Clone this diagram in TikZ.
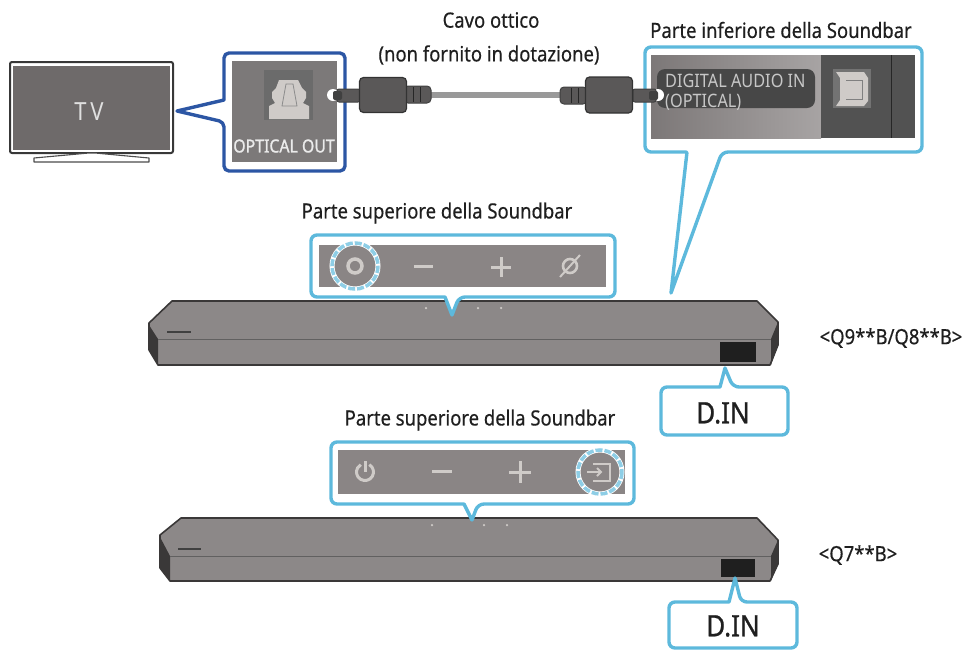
\documentclass[tikz,border=0pt]{standalone}
\usepackage{fontspec}
\setmainfont{Noto Sans}[FakeStretch=0.88]
\definecolor{cy}{HTML}{5DB9DC}
\definecolor{navy}{HTML}{2C56A4}
\definecolor{barg}{HTML}{8C8888}
\definecolor{bard}{HTML}{3A3838}
\definecolor{pan}{HTML}{8A8585}
\definecolor{tvg}{HTML}{6E6A6A}
\definecolor{plug}{HTML}{5A5858}
\definecolor{ico}{HTML}{CFCBC8}
\tikzset{
 x=1pt,y=-1pt,
 lab/.style={font=\fontsize{21}{21}\selectfont\addfontfeature{FakeBold=0.4},text=black!88,inner sep=0pt},
 din/.style={font=\fontsize{29.5}{30}\selectfont\addfontfeature{FakeBold=0.8},text=black!88,inner sep=0pt},
 call/.style={draw=cy,line width=3.4pt,fill=white,line join=round},
 panel/.style={fill=pan,draw=none},
 barbody/.style={fill=barg,draw=bard,line width=1.6pt,line join=round},
 barside/.style={fill=bard,draw=none},
 barline/.style={draw=bard!80,line width=1pt},
 icon/.style={draw=ico,line width=3pt},
 ring/.style={draw=cy!70!white,line width=3.5pt,dash pattern=on 7pt off 2pt},
 ringbase/.style={draw=white,line width=5pt},
 plugbody/.style={fill=plug,draw=black!80,line width=1.2pt,rounded corners=4pt},
 dot/.style={circle,fill=ico,inner sep=0pt,minimum size=2.5pt},
}
\begin{document}
\begin{tikzpicture}
\useasboundingbox (0,0) rectangle (964,651);
% TV
\draw[fill=white,draw=black!78,line width=2pt,rounded corners=2pt] (10,62) rectangle (173,153);
\fill[tvg] (13,66) rectangle (170,150);
\draw[fill=white,draw=black!70,line width=1.1pt,line join=round] (34,158)--(89,153)--(95,153)--(149,158)--(149,162)--(34,162)--cycle;
\node[font=\fontsize{25}{26}\selectfont,text=white!88!black,inner sep=0pt] (tv) at (89,112) {T\kern4pt V};
% optical out callout
\draw[draw=navy,line width=3.4pt,fill=white,line join=round,rounded corners=5pt] (224,100)--(224,53)--(345,53)--(345,171)--(224,171)--(224,122)[sharp corners]--(177,111)--cycle;
\fill[tvg!90!white] (232,61) rectangle (337,162);
\fill[black!58] (264,70) rectangle (313,120);
\fill[ico] (269,119)--(269,106)--(275,103)--(272,98)--(272,92)--(276,88)--(279,80)--(298,80)--(302,88)--(306,92)--(306,98)--(303,103)--(309,106)--(309,119)--cycle;
\draw[black!45,line width=.8pt] (282,106)--(286,84)--(293,84)--(297,106)--cycle;
\node[font=\fontsize{18}{20}\selectfont\addfontfeature{FakeBold=1.2},text=white!92!black,inner sep=0pt] (oo) at (284,146) {OPTICAL OUT};
% right bottom callout
\draw[call,rounded corners=6pt] (687,152)--(645,152)--(645,47)--(922,47)--(922,152)--(722,152)[sharp corners]--(671,293)[rounded corners=1pt]--cycle;
\fill[left color=pan!90!black,right color=pan!75!white] (651,55) rectangle (821,138);
\fill[black!68] (821,55) rectangle (915,138);
\draw[black!85,line width=1pt] (891,55)--(891,138);
\fill[black!72,rounded corners=8pt] (657,69) rectangle (815,108);
\fill[black!55] (833,69) rectangle (871,108);
\fill[ico] (836,72)--(864,72)--(868,78)--(868,101)--(864,106)--(836,106)--(840,100)--(840,78)--cycle;
\draw[black!50,line width=1pt] (846,80)--(862,80)--(862,99)--(846,99);
% cable
\node[lab] (cavo) at (491,20) {Cavo ottico};
\node[lab] (nonf) at (489,55) {(non fornito in dotazione)};
\node[lab] (pinf) at (781,30) {Parte inferiore della Soundbar};
\coordinate (ca) at (420,95);
\coordinate (cb) at (573,95);
\draw[draw=black!40,line width=6.5pt] (ca)--(cb);
\fill[white] (333,95) circle (6);
\fill[plug,draw=black!75,line width=1pt,rounded corners=2pt] (337,89) rectangle (360,102);
\fill[black!75,rounded corners=2pt] (333,91) rectangle (342,100);
\fill[plug,draw=black!75,line width=1pt,rounded corners=4pt] (404,86) rectangle (431,103);
\draw[black!85,line width=1pt] (413,87)--(413,102) (420,87)--(420,102);
\node[plugbody,minimum width=47pt,minimum height=35pt] (pl) at (383,95) {};
\fill[white] (658,95) circle (6);
\fill[plug,draw=black!75,line width=1pt,rounded corners=2pt] (633,89) rectangle (656,102);
\fill[black!75,rounded corners=2pt] (649,91) rectangle (658,100);
\fill[plug,draw=black!75,line width=1pt,rounded corners=4pt] (560,87) rectangle (587,104);
\draw[black!85,line width=1pt] (571,88)--(571,103) (578,88)--(578,103);
\node[plugbody,minimum width=47pt,minimum height=36pt] (pr) at (609,95) {};
\node[font=\fontsize{18.5}{20}\selectfont,text=white!78!black,inner sep=0pt,align=left,anchor=base west] (dai) at (665,107) {DIGITAL AUDIO IN\\(OPTICAL)};
% bar 1
\draw[barbody] (172,301)--(757,301)--(778,322)--(778,345)--(770,365)--(158,365)--(149,350)--(149,323)--cycle;
\fill[barside] (149,325)--(158,339)--(158,365)--(149,350)--cycle;
\fill[barside] (778,322)--(771,339)--(771,365)--(778,345)--cycle;
\draw[barline] (158,339)--(771,339);
\draw[black!75,line width=1.2pt] (167,332)--(191,332);
\fill[black!88] (720,342) rectangle (756,362);
\node[dot] at (426,308) {}; \node[dot] at (478,308) {}; \node[dot] at (501,308) {};
% top callout 1
\node[lab] (ps1) at (437,213) {Parte superiore della Soundbar};
\draw[call,rounded corners=6pt] (445,297)--(311,297)--(311,235)--(615,235)--(615,297)--(459,297)[sharp corners]--(452,315)--cycle;
\fill[panel] (319,245) rectangle (606,287);
\draw[ringbase] (355,266) circle (23);
\draw[ring] (355,266) circle (23);
\draw[icon,line width=3.5pt] (355,266) circle (7);
\draw[icon] (414,266)--(433,266);
\draw[icon] (491,267)--(511,267);
\draw[icon] (501,257)--(501,277);
\draw[icon,line width=2.6pt] (570,266) circle (7);
\draw[icon,line width=2pt] (560,277)--(580,255);
% din 1
\draw[call,rounded corners=6pt] (720,387)--(661,387)--(661,435)--(788,435)--(788,387)--(733,387)[sharp corners]--(725,368)--cycle;
\node[din] (d1) at (723,413) {D.IN};
\node[lab] (m1) at (891,338) {<Q9**B/Q8**B>};
% bar 2
\draw[barbody] (181,518)--(757,518)--(778,540)--(778,564)--(770,581)--(170,581)--(160,568)--(160,535)--cycle;
\fill[barside] (160,537)--(170,556)--(170,581)--(160,568)--cycle;
\fill[barside] (778,540)--(771,556)--(771,581)--(778,564)--cycle;
\draw[barline] (170,556)--(771,556);
\draw[black!75,line width=1.2pt] (178,549)--(201,549);
\fill[black!88] (721,559) rectangle (755,577);
\node[dot] at (432,525) {}; \node[dot] at (484,525) {}; \node[dot] at (507,525) {};
% top callout 2
\node[lab] (ps2) at (480,420) {Parte superiore della Soundbar};
\draw[call,rounded corners=6pt] (464,504)--(331,504)--(331,442)--(634,442)--(634,504)--(478,504)[sharp corners]--(472,520)--cycle;
\fill[panel] (338,450) rectangle (625,494);
\draw[icon] (369.25,464.64) arc[start angle=-60,end angle=240,radius=8.5];
\draw[icon] (365,461)--(365,472);
\draw[icon] (432,471)--(452,471);
\draw[icon] (509,472)--(531,472);
\draw[icon] (520,461)--(520,483);
\draw[ringbase] (600,472) circle (22);
\draw[ring] (600,472) circle (22);
\draw[icon,line width=2pt] (593,464)--(610,464)--(610,481)--(593,481);
\draw[icon,line width=2pt] (587,472)--(601,472);
\draw[icon,line width=2pt] (597,468)--(601,472)--(597,476);
% din 2
\draw[call,rounded corners=6pt] (729,602)--(669,602)--(669,648)--(797,648)--(797,602)--(741,602)[sharp corners]--(735,578)--cycle;
\node[din] (d2) at (733,626) {D.IN};
\node[lab] (m2) at (858,555) {<Q7**B>};
\end{tikzpicture}
\end{document}
